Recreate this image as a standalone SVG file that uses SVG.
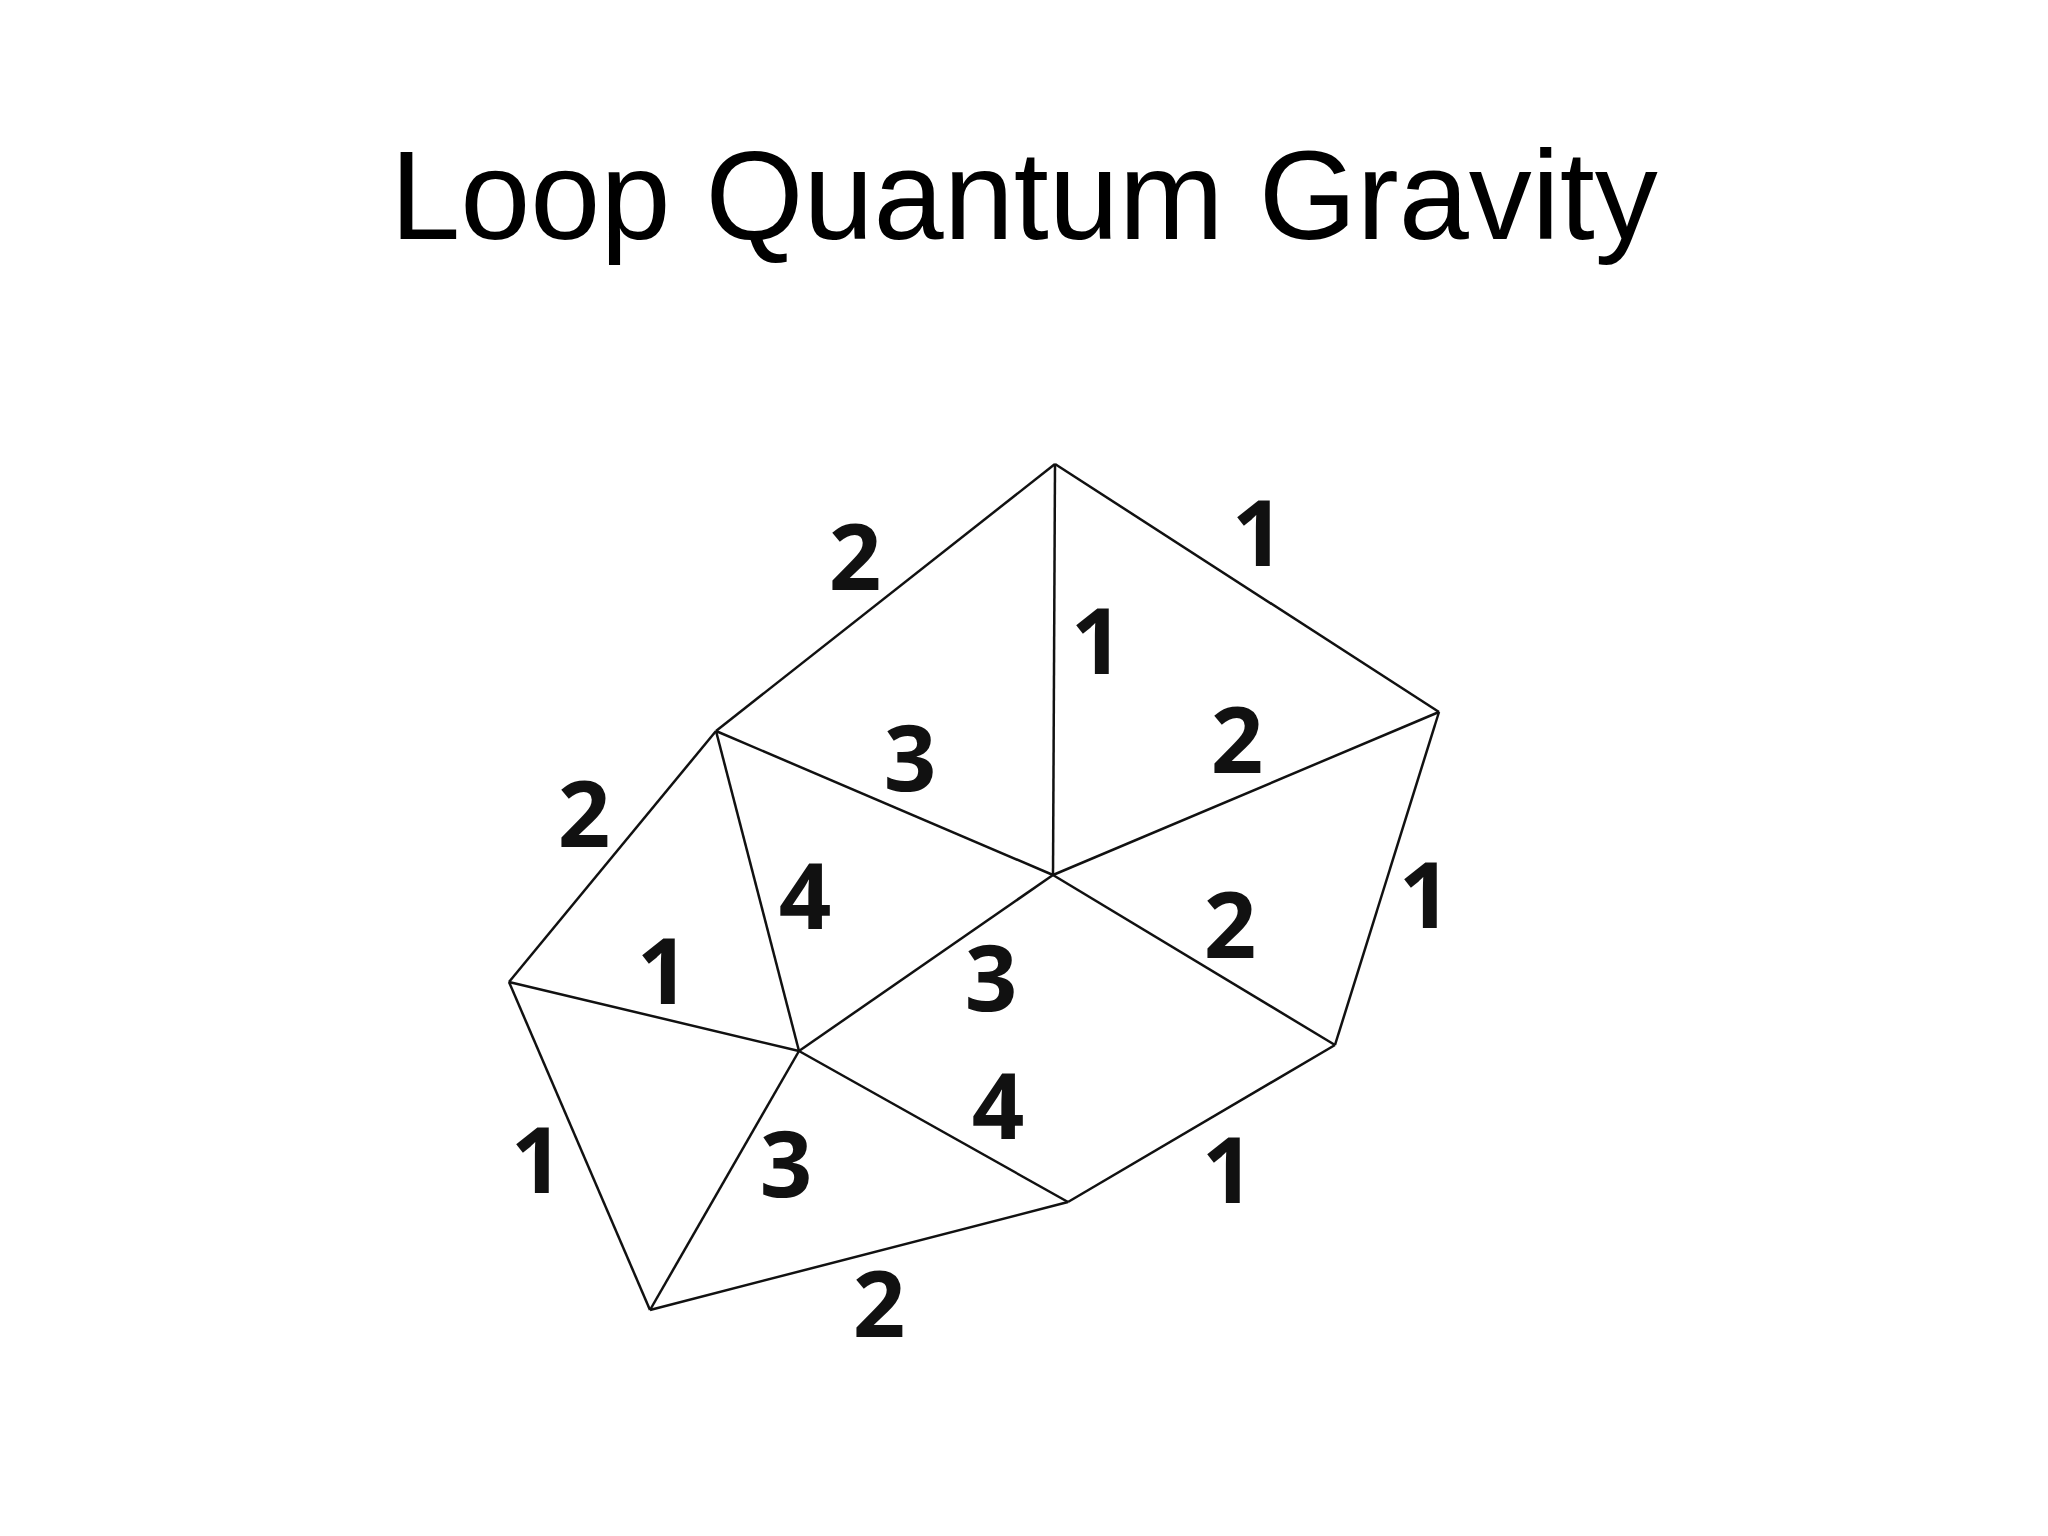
<svg xmlns="http://www.w3.org/2000/svg" width="2048" height="1536" viewBox="0 0 2048 1536">
<style>
.t{font-family:"Liberation Sans",Arial,sans-serif;font-size:126px;fill:#000}
.n{font-family:"Open Sans","DejaVu Sans",sans-serif;font-weight:bold;font-size:92px;fill:#111;text-anchor:middle}
line{stroke:#111;stroke-width:2.5}
</style>
<rect width="2048" height="1536" fill="#fff"/>
<text class="t" x="1024" y="239" text-anchor="middle">Loop Quantum Gravity</text>
<g id="connectors">
<line x1="1055" y1="464" x2="716" y2="731"/>
<line x1="1055" y1="464" x2="1439" y2="712"/>
<line x1="1055" y1="464" x2="1053" y2="875"/>
<line x1="716" y1="731" x2="1053" y2="875"/>
<line x1="1053" y1="875" x2="1439" y2="712"/>
<line x1="1439" y1="712" x2="1335" y2="1045"/>
<line x1="1053" y1="875" x2="1335" y2="1045"/>
<line x1="716" y1="731" x2="509" y2="982"/>
<line x1="716" y1="731" x2="799" y2="1051"/>
<line x1="509" y1="982" x2="799" y2="1051"/>
<line x1="799" y1="1051" x2="1053" y2="875"/>
<line x1="799" y1="1051" x2="1068" y2="1202"/>
<line x1="1335" y1="1045" x2="1068" y2="1202"/>
<line x1="509" y1="982" x2="650" y2="1310"/>
<line x1="799" y1="1051" x2="650" y2="1310"/>
<line x1="650" y1="1310" x2="1068" y2="1202"/>
</g>
<g id="labels">
<text class="n" x="855" y="590">2</text>
<text class="n" x="1258" y="566">1</text>
<text class="n" x="1097" y="674">1</text>
<text class="n" x="910" y="791">3</text>
<text class="n" x="1237" y="773">2</text>
<text class="n" x="584" y="847">2</text>
<text class="n" x="805" y="929">4</text>
<text class="n" x="1425" y="928">1</text>
<text class="n" x="663" y="1004">1</text>
<text class="n" x="991" y="1011">3</text>
<text class="n" x="1230" y="958">2</text>
<text class="n" x="998" y="1139">4</text>
<text class="n" x="537" y="1193">1</text>
<text class="n" x="786" y="1197">3</text>
<text class="n" x="1228" y="1203">1</text>
<text class="n" x="879" y="1337">2</text>
</g>
</svg>
